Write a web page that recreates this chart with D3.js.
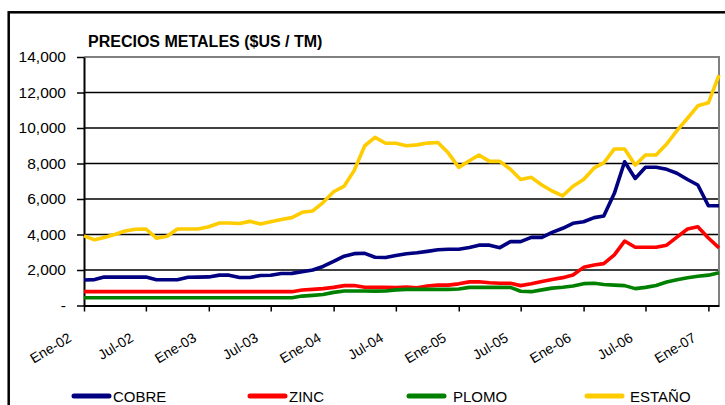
<!DOCTYPE html>
<html>
<head>
<meta charset="utf-8">
<script src="https://cdn.jsdelivr.net/npm/d3@7"></script>
<style>
    body { margin: 0; background: #fff; }
    #chart { width: 725px; height: 405px; overflow: hidden; }
</style>
</head>
<body>
<div id="chart"></div>
<script>
// x axis tick labels (every six months)
const tickLabels = ["Ene-02", "Jul-02", "Ene-03", "Jul-03", "Ene-04", "Jul-04",
                    "Ene-05", "Jul-05", "Ene-06", "Jul-06", "Ene-07"];
const yTicks = [0, 2000, 4000, 6000, 8000, 10000, 12000, 14000];

// monthly prices, Ene-02 .. Feb-07 ($US / TM)
const cobre = [
    1440, 1460, 1600, 1600, 1600, 1600, 1600, 1450, 1450, 1450, 1590, 1600,
    1610, 1710, 1710, 1580, 1580, 1690, 1700, 1800, 1810, 1900, 2000, 2200,
    2480, 2780, 2920, 2940, 2720, 2700, 2820, 2920, 2970, 3050, 3140, 3165,
    3170, 3270, 3400, 3400, 3260, 3600, 3600, 3840, 3840, 4120, 4350, 4630,
    4720, 4950, 5040, 6320, 8100, 7160, 7790, 7790, 7670, 7450, 7100, 6790,
    5620, 5620
];
const zinc = [
    780, 780, 780, 780, 780, 780, 780, 780, 780, 780, 780, 780,
    780, 780, 780, 780, 780, 780, 780, 780, 780, 870, 910, 950,
    1020, 1120, 1130, 1030, 1030, 1020, 1010, 1040, 1000, 1100, 1150, 1150,
    1220, 1330, 1340, 1280, 1250, 1250, 1120, 1220, 1350, 1470, 1570, 1720,
    2150, 2280, 2360, 2850, 3630, 3280, 3280, 3280, 3400, 3850, 4310, 4440,
    3800, 3250
];
const plomo = [
    440, 440, 440, 440, 440, 440, 440, 440, 440, 440, 440, 440,
    440, 440, 440, 440, 440, 440, 440, 440, 440, 530, 570, 620,
    740, 820, 820, 820, 810, 820, 880, 910, 910, 910, 910, 910,
    930, 1020, 1020, 1020, 1020, 1020, 800, 780, 880, 980, 1030, 1100,
    1230, 1250, 1180, 1150, 1120, 950, 1020, 1130, 1320, 1450, 1560, 1650,
    1710, 1840
];
const estano = [
    3920, 3700, 3830, 4000, 4200, 4300, 4310, 3790, 3900, 4310, 4310, 4310,
    4440, 4650, 4650, 4620, 4740, 4590, 4720, 4850, 4950, 5250, 5325, 5800,
    6410, 6730, 7600, 9000, 9475, 9140, 9140, 9000, 9050, 9150, 9180, 8600,
    7780, 8150, 8480, 8120, 8120, 7680, 7100, 7220, 6790, 6450, 6180, 6720,
    7100, 7750, 8030, 8820, 8820, 7910, 8480, 8480, 9100, 9850, 10550, 11250,
    11420, 12980
];
const seriesNames = ["COBRE", "ZINC", "PLOMO", "ESTAÑO"];
const seriesValues = [cobre, zinc, plomo, estano];

const seriesColors = ["#000080", "#ff0000", "#008000", "#ffcc00"];
const monthIndex = { Ene: 0, Jul: 6 };

class MetalPriceChart {
    constructor(id) {
        this.id = id;
        this.width = 725;
        this.height = 405;
        this.plot = { left: 84, right: 719, top: 57, bottom: 305.5 };
        this.font = "'Liberation Sans', Arial, sans-serif";
    }

    initialize() {
        console.log("Chart: initialize");
        this.createSVG();
        this.setupScales();
        this.drawFrame();
        this.drawAxes();
        this.drawLines();
        this.drawLegend();
    }

    createSVG() {
        this.svg = d3.select(this.id)
            .append("svg")
            .attr("width", this.width)
            .attr("height", this.height);
        this.chartGroup = this.svg.append("g");
    }

    setupScales() {
        const start = new Date(2002, 0, 1);
        this.months = d3.timeMonth.range(start, d3.timeMonth.offset(start, cobre.length));
        this.x = d3.scaleTime()
            .domain([this.months[0], this.months[this.months.length - 1]])
            .range([this.plot.left, this.plot.right]);
        this.y = d3.scaleLinear()
            .domain([0, 14000])
            .range([this.plot.bottom, this.plot.top]);
    }

    drawFrame() {
        // outer chart border
        this.svg.append("rect")
            .attr("x", 8.7).attr("y", 12.3)
            .attr("width", 760).attr("height", 440)
            .attr("fill", "none")
            .attr("stroke", "#000")
            .attr("stroke-width", 2.5);

        this.svg.append("text")
            .attr("x", 88)
            .attr("y", 46.5)
            .style("font-family", this.font)
            .style("font-size", "16px")
            .style("font-weight", "bold")
            .text("PRECIOS METALES ($US / TM)");

        // gridlines
        this.chartGroup.selectAll(".grid")
            .data(yTicks.filter(v => v > 0 && v < 14000))
            .enter().append("line")
            .attr("class", "grid")
            .attr("x1", this.plot.left).attr("x2", this.plot.right)
            .attr("y1", d => this.y(d)).attr("y2", d => this.y(d))
            .attr("stroke", "#000")
            .attr("stroke-width", 1.5);

        // plot area border (top and right)
        this.chartGroup.append("path")
            .attr("d", `M${this.plot.left},${this.plot.top}H${this.plot.right}V${this.plot.bottom}`)
            .attr("fill", "none")
            .attr("stroke", "#808080")
            .attr("stroke-width", 2);
    }

    drawAxes() {
        const yAxis = d3.axisLeft(this.y)
            .tickValues(yTicks)
            .tickSize(7)
            .tickSizeOuter(0)
            .tickPadding(11)
            .tickFormat(d => d === 0 ? "-" : d3.format(",")(d));
        const gy = this.chartGroup.append("g")
            .attr("transform", `translate(${this.plot.left},0)`)
            .call(yAxis);
        gy.select(".domain").attr("stroke-width", 2);
        gy.selectAll(".tick line").attr("stroke-width", 1.5);
        gy.selectAll(".tick text")
            .style("font-family", this.font)
            .style("font-size", "15.5px")
            .attr("fill", "#000");

        const tickDates = tickLabels.map(l => {
            const [m, yy] = l.split("-");
            return new Date(2000 + +yy, monthIndex[m], 1);
        });
        const xAxis = d3.axisBottom(this.x)
            .tickValues(tickDates)
            .tickSize(6)
            .tickSizeOuter(0)
            .tickFormat((d, i) => tickLabels[i]);
        const gx = this.chartGroup.append("g")
            .attr("transform", `translate(0,${this.plot.bottom})`)
            .call(xAxis);
        gx.select(".domain").attr("stroke-width", 2);
        gx.selectAll(".tick line").attr("stroke-width", 1.5);
        gx.selectAll(".tick text")
            .attr("x", 0).attr("y", 0).attr("dy", 0)
            .attr("text-anchor", "end")
            .attr("transform", "translate(-12,35) rotate(-31)")
            .style("font-family", this.font)
            .style("font-size", "14px")
            .attr("fill", "#000");
    }

    drawLines() {
        const line = d3.line()
            .x((d, i) => this.x(this.months[i]))
            .y(d => this.y(d));
        this.chartGroup.selectAll(".serie")
            .data(seriesValues)
            .enter().append("path")
            .attr("class", "serie")
            .attr("d", line)
            .attr("fill", "none")
            .attr("stroke", (d, i) => seriesColors[i])
            .attr("stroke-width", 3.6)
            .attr("stroke-linejoin", "round");
    }

    drawLegend() {
        const legendX = [72, 248, 407, 585];
        const textX = [41, 41, 46, 45];
        const legendY = 396;
        const items = this.svg.selectAll(".legend")
            .data(seriesNames)
            .enter().append("g")
            .attr("class", "legend")
            .attr("transform", (d, i) => `translate(${legendX[i]},${legendY})`);
        items.append("line")
            .attr("x1", 2).attr("x2", 37)
            .attr("stroke", (d, i) => seriesColors[i])
            .attr("stroke-width", 5)
            .attr("stroke-linecap", "round");
        items.append("text")
            .attr("x", (d, i) => textX[i])
            .attr("y", 5.5)
            .style("font-family", this.font)
            .style("font-size", "15px")
            .text(d => d);
    }
}

const chart = new MetalPriceChart("#chart");
chart.initialize();
</script>
</body>
</html>
